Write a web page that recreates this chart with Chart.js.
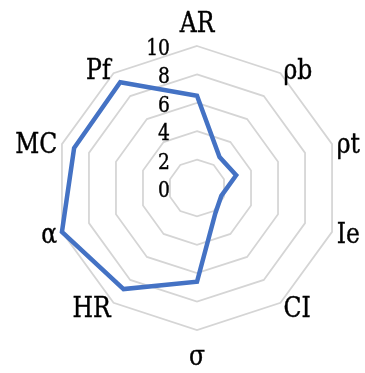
<!DOCTYPE html>
<html>
<head>
<meta charset="utf-8">
<title>Radar</title>
<script src="https://cdn.jsdelivr.net/npm/chart.js@4/dist/chart.umd.min.js"></script>
<style>
    html, body { margin: 0; padding: 0; background: #fff; }
    #wrap { width: 365px; height: 373px; position: relative; }
</style>
</head>
<body>
<div id="wrap"><canvas id="radar"></canvas></div>
<script>
// Axis names, clockwise from the top
const categories = ['AR', 'ρb', 'ρt', 'Ie', 'CI', 'σ', 'HR', 'α', 'MC', 'Pf'];

// Score on each axis
const scores = [6.5, 2.7, 2.9, 1.8, 2.2, 6.6, 8.8, 10, 9.1, 9.2];

// Radial scale ticks
const tickValues = [0, 2, 4, 6, 8, 10];

const serif = '"DejaVu Serif", "Liberation Serif", serif';

// Text is drawn a bit narrower than the face's natural width
const TEXT_SQUEEZE = 0.87;

/**
 * Draw one line of text, squeezed horizontally around its anchor
 */
function squeezedText(ctx, text, x, y, align) {
    ctx.save();
    ctx.translate(x, y);
    ctx.scale(TEXT_SQUEEZE, 1);
    ctx.textAlign = align;
    ctx.fillText(text, 0, 0);
    ctx.strokeText(text, 0, 0);
    ctx.restore();
}

/**
 * Draws the axis names and the tick numbers from the radial scale
 */
const radarLabels = {
    id: 'radarLabels',
    afterDatasetsDraw(chart) {
        const scale = chart.scales.r;
        const ctx = chart.ctx;
        const r = scale.drawingArea;
        const n = categories.length;

        ctx.save();
        ctx.fillStyle = '#000';
        ctx.strokeStyle = '#000';
        ctx.lineWidth = 0.4;
        ctx.textBaseline = 'alphabetic';

        // Tick numbers sit just left of the vertical axis
        ctx.font = '21.5px ' + serif;
        tickValues.forEach(v => {
            const y = scale.yCenter - scale.getDistanceFromCenterForValue(v);
            squeezedText(ctx, String(v), scale.xCenter - 27, y + 9, 'right');
        });

        // Axis names around the outer ring
        ctx.font = '27px ' + serif;
        categories.forEach((text, i) => {
            const deg = i * 360 / n;
            if (deg === 0) {
                const p = scale.getPointPosition(i, r + 14.5);
                squeezedText(ctx, text, p.x, p.y, 'center');
            } else if (deg === 180) {
                const p = scale.getPointPosition(i, r + 35);
                squeezedText(ctx, text, p.x, p.y, 'center');
            } else {
                const p = scale.getPointPosition(i, r + 5);
                squeezedText(ctx, text, p.x, p.y + 10, deg < 180 ? 'left' : 'right');
            }
        });

        ctx.restore();
    }
};

const ctx = document.getElementById('radar').getContext('2d');

new Chart(ctx, {
    type: 'radar',
    data: {
        labels: categories,
        datasets: [{
            data: scores,
            borderColor: '#4472C4',
            backgroundColor: 'transparent',
            borderWidth: 4.5,
            borderJoinStyle: 'miter',
            pointRadius: 0,
            pointHoverRadius: 0,
            fill: false,
            tension: 0
        }]
    },
    options: {
        responsive: true,
        maintainAspectRatio: false,
        animation: false,
        layout: {
            padding: { left: 55, right: 26, top: 46, bottom: 43 }
        },
        plugins: {
            legend: { display: false },
            tooltip: { enabled: false }
        },
        scales: {
            r: {
                min: 0,
                max: 10,
                ticks: {
                    stepSize: 2,
                    display: false
                },
                grid: {
                    color: '#d5d5d5',
                    lineWidth: 1.75
                },
                angleLines: { display: false },
                pointLabels: { display: false }
            }
        }
    },
    plugins: [radarLabels]
});
</script>
</body>
</html>
